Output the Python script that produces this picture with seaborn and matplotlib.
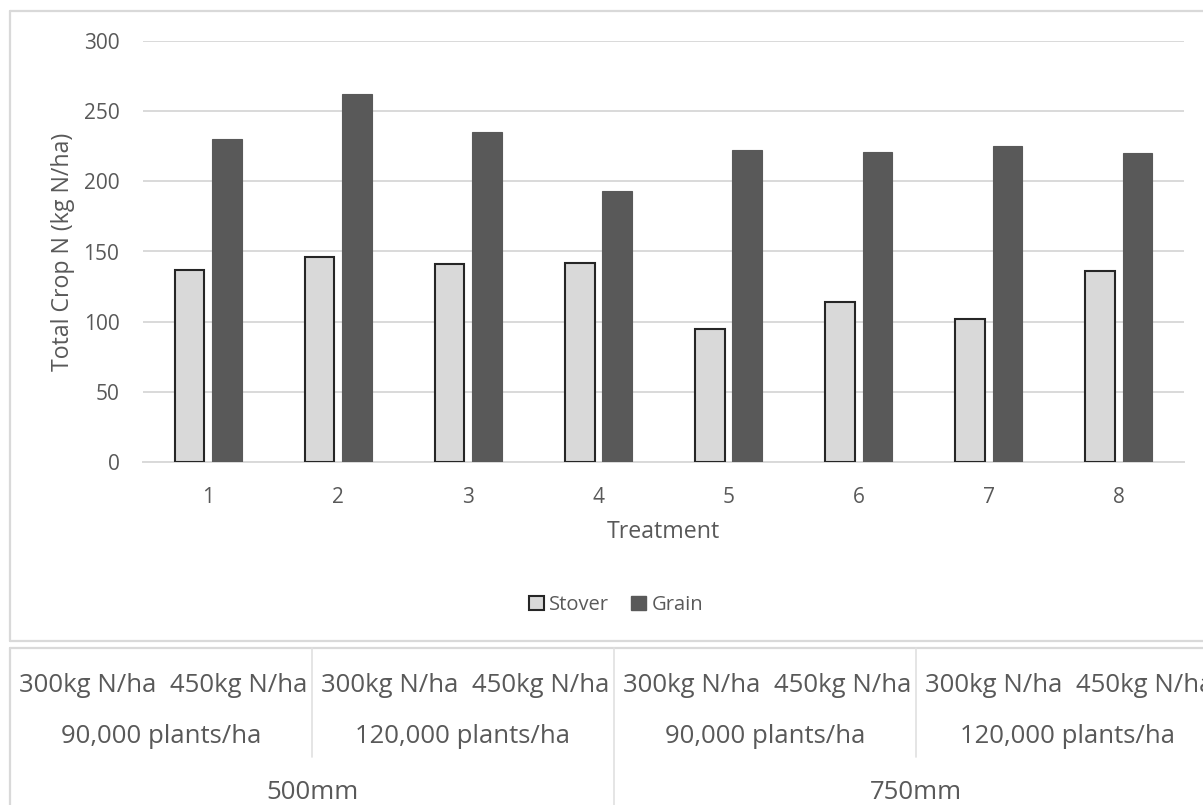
import matplotlib
matplotlib.use("Agg")
import matplotlib.pyplot as plt
from matplotlib.lines import Line2D
from matplotlib.patches import Patch
import seaborn as sns
import pandas as pd

# Total crop nitrogen per treatment
treatments = ["1", "2", "3", "4", "5", "6", "7", "8"]
stover = [137, 146, 141, 142, 95, 114, 102, 136]
grain = [230, 262, 235, 193, 222, 221, 225, 220]
components = ["Stover", "Grain"]

# Treatment structure shown under the chart
n_rates = ["300kg N/ha", "450kg N/ha"]
densities = ["90,000 plants/ha", "120,000 plants/ha"]
rainfall = ["500mm", "750mm"]

W, H = 1203, 805
TEXT = "#595959"
GRID = "#d9d9d9"
FONT = "Open Sans"

sns.set_theme(style="white")
plt.rcParams["font.family"] = [FONT, "DejaVu Sans"]

df = pd.DataFrame({
    "Treatment": treatments * 2,
    "N": stover + grain,
    "Component": [components[0]] * len(treatments) + [components[1]] * len(treatments),
})


def fx(px):
    return px / W


def fy(py):
    return 1 - py / H


fig = plt.figure(figsize=(W / 100, H / 100), dpi=100)
ax_left, ax_right, ax_top, ax_bottom = 143, 1184, 41, 462
ax = fig.add_axes([fx(ax_left), fy(ax_bottom), fx(ax_right) - fx(ax_left),
                   fy(ax_top) - fy(ax_bottom)])

sns.barplot(
    data=df, x="Treatment", y="N", hue="Component", order=treatments,
    hue_order=components, palette={"Stover": "#d9d9d9", "Grain": "#595959"},
    width=0.575, gap=0.21, ax=ax, legend=False, saturation=1, zorder=3,
)
for bar in ax.containers[0]:
    bar.set_edgecolor("#262626")
    bar.set_linewidth(1.5)
for bar in ax.containers[1]:
    bar.set_edgecolor("#595959")
    bar.set_linewidth(0.8)

ax.set_ylim(0, 300)
ax.set_xlim(-0.5, len(treatments) - 0.5)
ax.set_yticks(range(0, 301, 50))
ax.yaxis.grid(True, color=GRID, linewidth=1.4, zorder=0)
ax.set_axisbelow(True)
for side in ["top", "right", "left"]:
    ax.spines[side].set_visible(False)
ax.spines["bottom"].set_color(GRID)
ax.spines["bottom"].set_linewidth(1.4)
ax.tick_params(axis="both", length=0, labelsize=15, labelcolor=TEXT)
ax.tick_params(axis="x", pad=18)
ax.tick_params(axis="y", pad=17)
ax.set_xlabel("Treatment", fontsize=16.7, color=TEXT)
ax.set_ylabel("Total Crop N (kg N/ha)", fontsize=16.7, color=TEXT)
plot_w = ax_right - ax_left
plot_h = ax_bottom - ax_top
ax.yaxis.set_label_coords((75 - ax_left) / plot_w, 0.5)
ax.xaxis.set_label_coords(0.5, -(520 - ax_bottom) / plot_h)

handles = [
    Patch(facecolor="#d9d9d9", edgecolor="#262626", linewidth=1.5),
    Patch(facecolor="#595959", edgecolor="#595959"),
]
fig.legend(
    handles, components, loc="center", bbox_to_anchor=(fx(616), fy(605)),
    ncol=2, frameon=False, fontsize=14.5, labelcolor=TEXT, handlelength=0.75,
    handleheight=0.75, handletextpad=0.25, columnspacing=1.1,
)

# Chart frame
lw = 1.6
fig.add_artist(Line2D([fx(10), fx(1210)], [fy(11), fy(11)], color=GRID, lw=lw))
fig.add_artist(Line2D([fx(10), fx(10)], [fy(11), fy(641)], color=GRID, lw=lw))
fig.add_artist(Line2D([fx(10), fx(1210)], [fy(641), fy(641)], color=GRID, lw=lw))

# Category table frame and separators
fig.add_artist(Line2D([fx(10), fx(1210)], [fy(648), fy(648)], color=GRID, lw=lw))
fig.add_artist(Line2D([fx(10), fx(10)], [fy(648), fy(810)], color=GRID, lw=lw))
cell = 302
for k in range(1, 4):
    xs = 10 + k * cell
    bottom = 810 if k == 2 else 757
    fig.add_artist(Line2D([fx(xs), fx(xs)], [fy(648), fy(bottom)], color="#e0e0e0", lw=1.2))

tsize = 18.5
for g in range(4):
    left = 10 + g * cell
    for j, rate in enumerate(n_rates):
        fig.text(fx(left + cell / 4 + j * cell / 2 + 2), fy(685), rate, ha="center",
                 va="center", fontsize=tsize, color=TEXT)
    fig.text(fx(left + cell / 2), fy(736), densities[g % 2], ha="center",
             va="center", fontsize=tsize, color=TEXT)
for r, label in enumerate(rainfall):
    fig.text(fx(10 + r * 2 * cell + cell), fy(792), label, ha="center",
             va="center", fontsize=tsize, color=TEXT)

fig.savefig("out.png", dpi=100)
